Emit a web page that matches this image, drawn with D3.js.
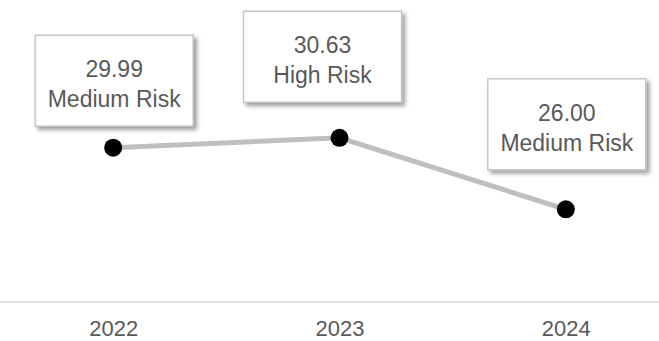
<!DOCTYPE html>
<html>
<head>
  <meta charset="utf-8">
  <title>Risk score</title>
  <script src="https://d3js.org/d3.v7.min.js"></script>
  <style>
    body { margin: 0; background: #fff; }
    svg { display: block; font-family: "Liberation Sans", Arial, sans-serif; }
    .axis .domain { stroke: #d9d9d9; stroke-width: 1.5px; }
    .axis text { fill: #595959; font-size: 22px; }
    .label-box { fill: #fff; stroke: #bfbfbf; stroke-width: 1.3px; }
    .label-text { fill: #595959; font-size: 23px; }
  </style>
</head>
<body>
  <svg width="659" height="341"></svg>
  <script>
    const years = ["2022", "2023", "2024"];
    const scores = [29.99, 30.63, 26.00];
    const riskLevels = ["Medium Risk", "High Risk", "Medium Risk"];

    // label box offsets from the point (box centre), placed by hand like the original
    const labelDx = [1, -17, 1];
    const labelDy = [-67, -81, -85];

    const svg = d3.select("svg");
    const width = 659;
    const boxW = 158, boxH = 91;

    const x = d3.scalePoint()
      .domain(years)
      .range([0, 679])
      .padding(0.5);

    const y = d3.scaleLinear()
      .domain([20, 40])
      .range([302, -7]);

    const defs = svg.append("defs");
    const shadow = defs.append("filter")
      .attr("id", "shadow")
      .attr("x", "-10%").attr("y", "-10%")
      .attr("width", "130%").attr("height", "130%");
    shadow.append("feDropShadow")
      .attr("dx", 3).attr("dy", 3)
      .attr("stdDeviation", 2.2)
      .attr("flood-color", "#000")
      .attr("flood-opacity", 0.4);

    // x axis
    const axis = svg.append("g")
      .attr("class", "axis")
      .attr("transform", `translate(0,${y(20)})`)
      .call(d3.axisBottom(x).tickSize(0).tickPadding(0));
    axis.select(".domain").attr("d", `M0,0H${width}`);
    axis.selectAll(".tick text").attr("dy", null).attr("y", 34);

    const data = years.map((d, i) => ({ year: d, score: scores[i], risk: riskLevels[i] }));

    // line
    svg.append("path")
      .datum(data)
      .attr("fill", "none")
      .attr("stroke", "#bfbfbf")
      .attr("stroke-width", 5)
      .attr("d", d3.line().x(d => x(d.year)).y(d => y(d.score)));

    // points
    svg.append("g")
      .selectAll("circle")
      .data(data)
      .join("circle")
      .attr("cx", d => x(d.year))
      .attr("cy", d => y(d.score))
      .attr("r", 9)
      .attr("fill", "#000");

    // data labels
    const labels = svg.append("g")
      .selectAll("g")
      .data(data)
      .join("g")
      .attr("transform", (d, i) =>
        `translate(${x(d.year) + labelDx[i]},${y(d.score) + labelDy[i]})`);

    labels.append("rect")
      .attr("class", "label-box")
      .attr("x", -boxW / 2)
      .attr("y", -boxH / 2)
      .attr("width", boxW)
      .attr("height", boxH)
      .attr("filter", "url(#shadow)");

    labels.append("text")
      .attr("class", "label-text")
      .attr("text-anchor", "middle")
      .attr("y", -boxH / 2 + 42)
      .text(d => d.score.toFixed(2));

    labels.append("text")
      .attr("class", "label-text")
      .attr("text-anchor", "middle")
      .attr("y", -boxH / 2 + 72)
      .text(d => d.risk);
  </script>
</body>
</html>
